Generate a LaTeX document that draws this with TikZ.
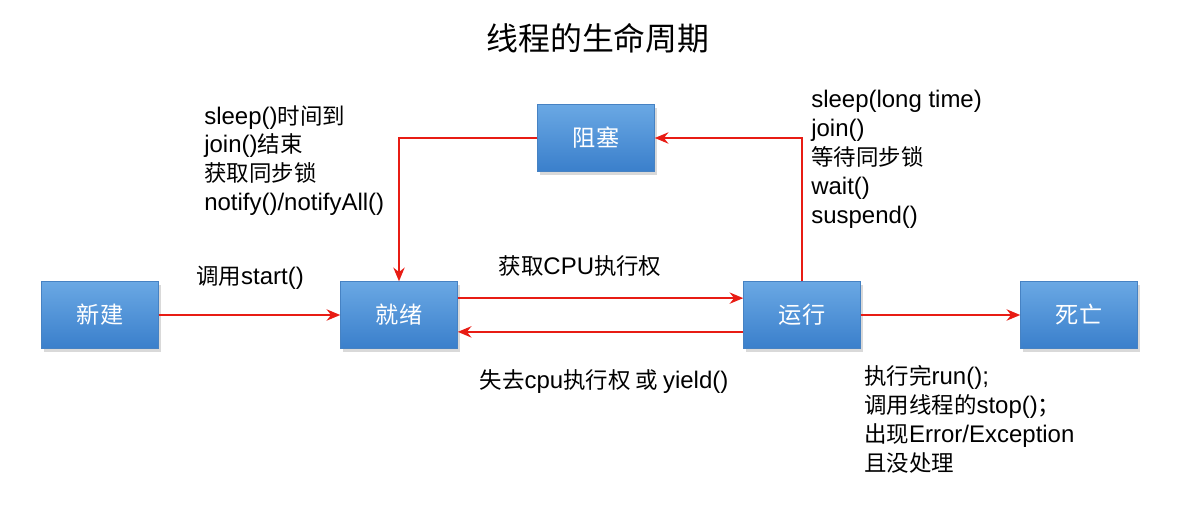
\documentclass[tikz,border=0pt]{standalone}
\usepackage{fontspec}
\setmainfont{Liberation Sans}[Scale=1.1]
\newfontfamily\cjk{Noto Sans CJK SC}[Scale=1.03]
\newcommand\zh[1]{{\cjk #1}}
\usetikzlibrary{positioning, arrows.meta, shadows}

\definecolor{boxtop}{RGB}{106,168,228}
\definecolor{boxbot}{RGB}{58,127,203}
\definecolor{boxedge}{RGB}{70,130,195}
\definecolor{flowred}{RGB}{232,28,20}

\begin{document}
\begin{tikzpicture}[
    x=0.025cm, y=-0.025cm,
    state/.style={
        minimum width=2.925cm, minimum height=1.675cm,
        top color=boxtop, bottom color=boxbot,
        draw=boxedge, line width=0.3pt,
        drop shadow={shadow xshift=0.6mm, shadow yshift=-0.8mm, opacity=0.3},
        text=white, font=\fontsize{16}{19}\selectfont\cjk
    },
    flow/.style={
        draw=flowred, line width=1.7pt,
        -{Stealth[length=3.4mm, width=2.8mm]}
    },
    note/.style={
        font=\fontsize{15.5}{20.6}\selectfont,
        align=left, inner sep=0pt
    }
]
\useasboundingbox (0,0) rectangle (1199,506);

% Title
\node[font=\fontsize{22}{26}\selectfont\cjk] (title) at (598,38) {线程的生命周期};

% States
\node[state] (new)     at (100,315)  {新建};
\node[state] (ready)   at (399,315)  {就绪};
\node[state] (running) at (802,315)  {运行};
\node[state] (dead)    at (1079,315) {死亡};
\node[state] (blocked) at (596,138)  {阻塞};

% Transitions
\draw[flow] (new) -- (ready);
\draw[flow] ([yshift=12pt]ready.east) -- ([yshift=12pt]running.west);
\draw[flow] ([yshift=-12pt]running.west) -- ([yshift=-12pt]ready.east);
\draw[flow] (running) -- (dead);
\draw[flow] (running.north) |- (blocked.east);
\draw[flow] (blocked.west) -| (ready.north);

% Labels
\node[note] (startlbl) at (250,278) {\zh{调用}start()};
\node[note] (getcpu) at (580,266) {\zh{获取}CPU\zh{执行权}};
\node[note] (losecpu) at (604,382) {\zh{失去}cpu\zh{执行权 或 }yield()};

\node[note, anchor=north west] (wakeup) at (204,105) {%
    sleep()\zh{时间到}\\
    join()\zh{结束}\\
    \zh{获取同步锁}\\
    notify()/notifyAll()};

\node[note, anchor=north west] (blockwhy) at (811,90) {%
    sleep(long time)\\
    join()\\
    \zh{等待同步锁}\\
    wait()\\
    suspend()};

\node[note, anchor=north west] (deathwhy) at (864,365) {%
    \zh{执行完}run();\\
    \zh{调用线程的}stop()\zh{；}\\
    \zh{出现}Error/Exception\\
    \zh{且没处理}};

\end{tikzpicture}
\end{document}
